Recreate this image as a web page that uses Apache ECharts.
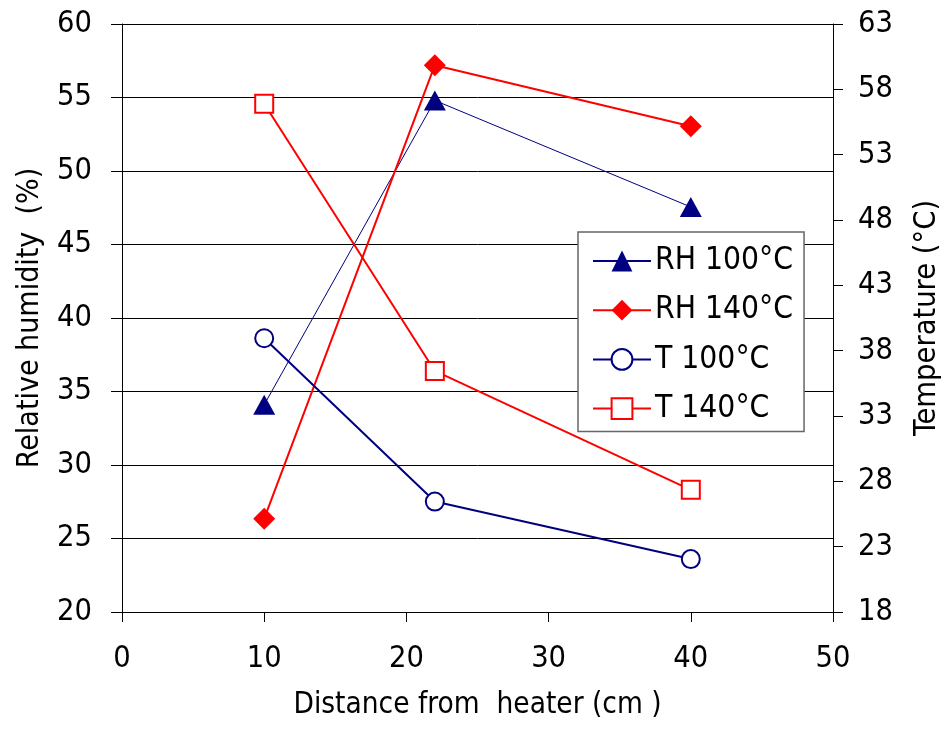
<!DOCTYPE html>
<html><head><meta charset="utf-8">
<script src="https://cdn.jsdelivr.net/npm/echarts@6/dist/echarts.min.js"></script>
<style>html,body{margin:0;padding:0;background:#fff}#c{width:946px;height:729px}</style>
</head><body><div id="c"></div>
<script>
const distances = [10, 22, 40];
const rh100 = [34.1, 54.8, 47.55];
const rh140 = [26.35, 57.2, 53.05];
const t100 = [38.95, 26.45, 22.05];
const t140 = [56.9, 36.45, 27.35];
const seriesNames = ['RH 100°C', 'RH 140°C', 'T 100°C', 'T 140°C'];
const FONT = '"DejaVu Sans Condensed", "DejaVu Sans", sans-serif';
const navy = '#000080', red = '#ff0000';
function pts(vals){ return distances.map((d,i)=>[d, vals[i]]); }
const chart = echarts.init(document.getElementById('c'), null, {renderer:'canvas'});
chart.setOption({
  animation:false,
  backgroundColor:'#fff',
  textStyle:{fontFamily:FONT},
  grid:{left:122, right:113, top:24, bottom:117, containLabel:false, outerBoundsMode:'none'},
  legend:{
    orient:'vertical', left:578, top:232,
    backgroundColor:'#fff', borderColor:'#666', borderWidth:1.5,
    padding:[13,11,7,14], itemGap:17.2, itemWidth:58, itemHeight:26,
    textStyle:{fontSize:31.5, fontFamily:FONT, color:'#000', lineHeight:30, padding:[0,0,0,-1]},
    data:seriesNames
  },
  xAxis:{
    type:'value', min:0, max:50, interval:10,
    name:'Distance from  heater (cm )', nameLocation:'middle', nameGap:78,
    nameTextStyle:{fontSize:29.5, fontFamily:FONT, color:'#000'},
    axisLine:{lineStyle:{color:'#000', width:1}},
    axisTick:{length:10, lineStyle:{color:'#000'}},
    axisLabel:{fontSize:30.5, fontFamily:FONT, color:'#000', margin:32},
    splitLine:{show:false}
  },
  yAxis:[{
    type:'value', min:20, max:60, interval:5, position:'left',
    name:'Relative humidity  (%)', nameLocation:'middle', nameGap:77, nameRotate:90,
    nameTextStyle:{fontSize:30, fontFamily:FONT, color:'#000'},
    axisLine:{show:true, lineStyle:{color:'#000', width:1}},
    axisTick:{show:true, length:11, lineStyle:{color:'#000'}},
    axisLabel:{fontSize:30.5, fontFamily:FONT, color:'#000', margin:30},
    splitLine:{show:true, lineStyle:{color:'#000', width:1}}
  },{
    type:'value', min:18, max:63, interval:5, position:'right',
    name:'Temperature (°C)', nameLocation:'middle', nameGap:79, nameRotate:90,
    nameTextStyle:{fontSize:30.5, fontFamily:FONT, color:'#000'},
    axisLine:{show:true, lineStyle:{color:'#000', width:1}},
    axisTick:{show:true, length:10, lineStyle:{color:'#000'}},
    axisLabel:{fontSize:30.5, fontFamily:FONT, color:'#000', margin:25},
    splitLine:{show:false}
  }],
  series:[
    {name:seriesNames[0], type:'line', yAxisIndex:0, data:pts(rh100),
     symbol:'triangle', symbolSize:[22,20], color:navy,
     lineStyle:{color:navy, width:1}, itemStyle:{color:navy}},
    {name:seriesNames[1], type:'line', yAxisIndex:0, data:pts(rh140),
     symbol:'diamond', symbolSize:[22,22], color:red,
     lineStyle:{color:red, width:2}, itemStyle:{color:red}},
    {name:seriesNames[2], type:'line', yAxisIndex:1, data:pts(t100),
     symbol:'emptyCircle', symbolSize:18, color:navy,
     lineStyle:{color:navy, width:2}, itemStyle:{color:navy, borderWidth:2}},
    {name:seriesNames[3], type:'line', yAxisIndex:1, data:pts(t140),
     symbol:'emptyRect', symbolSize:18, color:red,
     lineStyle:{color:red, width:2}, itemStyle:{color:red, borderWidth:2}}
  ]
});
</script></body></html>
